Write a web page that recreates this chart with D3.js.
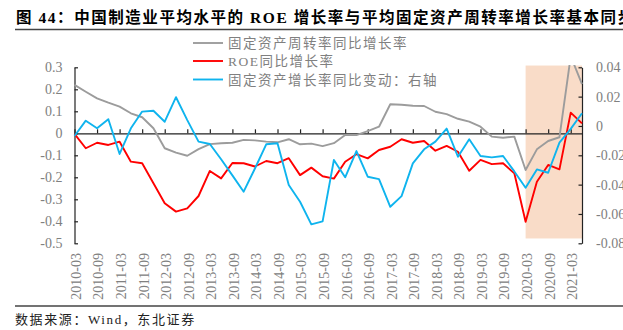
<!DOCTYPE html>
<html><head><meta charset="utf-8">
<script src="https://cdn.jsdelivr.net/npm/d3@7"></script>
<style>
html,body{margin:0;padding:0;background:#fff;}
svg{display:block;}
</style></head>
<body>
<script>
// ---- data ----
const categories = ["2010-03","2010-06","2010-09","2010-12","2011-03","2011-06","2011-09","2011-12","2012-03","2012-06","2012-09","2012-12",
"2013-03","2013-06","2013-09","2013-12","2014-03","2014-06","2014-09","2014-12","2015-03","2015-06","2015-09","2015-12",
"2016-03","2016-06","2016-09","2016-12","2017-03","2017-06","2017-09","2017-12","2018-03","2018-06","2018-09","2018-12",
"2019-03","2019-06","2019-09","2019-12","2020-03","2020-06","2020-09","2020-12","2021-03","2021-06"];
const turnoverGrowth = [0.22,0.189,0.159,0.139,0.121,0.091,0.073,0.023,-0.068,-0.088,-0.102,-0.072,-0.049,-0.045,-0.043,-0.03,-0.032,-0.038,-0.041,-0.027,-0.05,-0.047,-0.058,-0.045,-0.008,-0.008,0.01,0.03,0.132,0.13,0.125,0.124,0.098,0.087,0.066,0.053,0.03,-0.015,-0.02,-0.015,-0.167,-0.073,-0.035,-0.018,0.35,0.224];
const roeGrowth = [-0.003,-0.068,-0.043,-0.053,-0.038,-0.129,-0.136,-0.227,-0.318,-0.356,-0.341,-0.285,-0.171,-0.205,-0.135,-0.136,-0.151,-0.126,-0.136,-0.113,-0.19,-0.156,-0.195,-0.206,-0.129,-0.095,-0.114,-0.076,-0.061,-0.027,-0.043,-0.035,-0.079,-0.057,-0.084,-0.17,-0.121,-0.14,-0.136,-0.182,-0.402,-0.22,-0.144,-0.164,0.094,0.045];
const assetGrowthChange = [-0.0068,0.0036,-0.0016,0.0046,-0.0191,-0.0016,0.0098,0.0104,0.0029,0.0196,0.004,-0.0107,-0.0123,-0.0227,-0.0337,-0.0448,-0.029,-0.0125,-0.0118,-0.0403,-0.0517,-0.0671,-0.0651,-0.0232,-0.035,-0.0171,-0.0346,-0.0362,-0.0551,-0.0478,-0.0255,-0.0159,-0.0107,-0.0018,-0.021,-0.0091,-0.0205,-0.0214,-0.0205,-0.031,-0.0421,-0.0296,-0.0319,-0.0114,-0.002,0.0087];
const leftTicks = [0.3,0.2,0.1,0,-0.1,-0.2,-0.3,-0.4,-0.5];
const rightTicks = [0.04,0.02,0,-0.02,-0.04,-0.06,-0.08];
const xTickLabels = categories.filter((d,i)=>i%2===0);
const seriesNames = ["固定资产周转率同比增长率","ROE同比增长率","固定资产增长率同比变动：右轴"];
const shadeRange = {from:"2020-03", to:"2021-06", top:0.0412, bottom:-0.0767};
const titleText = "图 44：中国制造业平均水平的 ROE 增长率与平均固定资产周转率增长率基本同步";
const sourceText = "数据来源：Wind，东北证券";

// ---- layout ----
const W=623,H=330;
const svg=d3.select("body").append("svg").attr("width",W).attr("height",H);
const serif="'Liberation Serif','Times New Roman',serif";
const cjk="'Liberation Serif','Noto Sans CJK SC',serif";
const L=74.5,R=582,T=67.3,B=243.3;

const x=d3.scaleLinear().domain([0,categories.length-1]).range([L,R]);
const yL=d3.scaleLinear().domain([-0.5,0.3]).range([B,T]);
const yR=d3.scaleLinear().domain([-0.08,0.04]).range([B,T]);
const fmt=(p)=>d=>d===0?"0":d3.format("."+p+"f")(d).replace("\u2212","-");

// title
svg.append("text").attr("x",16).attr("y",23).attr("font-family",cjk).attr("font-weight","bold")
  .attr("font-size",15.5).attr("letter-spacing",1.55).attr("fill","#000").text(titleText);
svg.append("line").attr("x1",15).attr("x2",W).attr("y1",29.5).attr("y2",29.5).attr("stroke","#444").attr("stroke-width",1.3);

// shaded area
const i0=categories.indexOf(shadeRange.from), i1=categories.indexOf(shadeRange.to);
svg.append("rect").attr("x",x(i0)).attr("width",x(i1)-x(i0))
  .attr("y",yR(shadeRange.top)).attr("height",yR(shadeRange.bottom)-yR(shadeRange.top))
  .attr("fill","#F9DCC8");

// left axis
const gL=svg.append("g").attr("transform",`translate(${L},0)`)
  .call(d3.axisLeft(yL).tickValues(leftTicks).tickSizeInner(-3.5).tickSizeOuter(0).tickPadding(12)
  .tickFormat(fmt(1)));
gL.select(".domain").attr("stroke","#222").attr("stroke-width",1.2);
gL.selectAll(".tick line").attr("stroke","#222").attr("stroke-width",1.2);
gL.selectAll("text").attr("font-family",serif).attr("font-size",14).attr("fill","#808080");

// right axis
const gR=svg.append("g").attr("transform",`translate(${R},0)`)
  .call(d3.axisRight(yR).tickValues(rightTicks).tickSizeInner(-3.5).tickSizeOuter(0).tickPadding(14)
  .tickFormat(fmt(2)));
gR.select(".domain").attr("stroke","#222").attr("stroke-width",1.2);
gR.selectAll(".tick line").attr("stroke","#222").attr("stroke-width",1.2);
gR.selectAll("text").attr("font-family",serif).attr("font-size",14).attr("fill","#808080");

// zero axis with upward ticks
const zeroY=yL(0);
const gX=svg.append("g").attr("transform",`translate(0,${zeroY})`)
  .call(d3.axisTop(x).tickValues(d3.range(0,categories.length,2)).tickSizeInner(4).tickSizeOuter(0).tickFormat(""));
gX.select(".domain").attr("stroke","#222").attr("stroke-width",1.2);
gX.selectAll(".tick line").attr("stroke","#222").attr("stroke-width",1.2);

// x labels
svg.append("g").selectAll("text").data(xTickLabels).join("text")
  .attr("transform",(d)=>`translate(${x(categories.indexOf(d))+1.5},253) rotate(-90)`)
  .attr("text-anchor","end").attr("dy","0.35em")
  .attr("font-family",serif).attr("font-size",14).attr("fill","#808080").text(d=>d);

// clip
svg.append("clipPath").attr("id","clip").append("rect").attr("x",L-2).attr("y",65).attr("width",R-L+4).attr("height",B-65+2);

const lines=[
  {vals:turnoverGrowth,y:yL,color:"#9C9C9C"},
  {vals:roeGrowth,y:yL,color:"#FF0000"},
  {vals:assetGrowthChange,y:yR,color:"#0FB4EE"}
];
const gLines=svg.append("g").attr("clip-path","url(#clip)");
lines.forEach(s=>{
  gLines.append("path").datum(s.vals)
    .attr("d",d3.line().x((d,i)=>x(i)).y(d=>s.y(d)))
    .attr("fill","none").attr("stroke",s.color).attr("stroke-width",1.9).attr("stroke-linejoin","round");
});

// legend
const legY=[43,61,79.5];
lines.forEach((s,k)=>{
  svg.append("line").attr("x1",193).attr("x2",223).attr("y1",legY[k]).attr("y2",legY[k])
    .attr("stroke",s.color).attr("stroke-width",1.9);
  svg.append("text").attr("x",228).attr("y",legY[k]+5).attr("font-family",cjk).attr("font-size",13.5)
    .attr("letter-spacing",1.5).attr("fill","#808080").text(seriesNames[k]);
});

// source
svg.append("line").attr("x1",15).attr("x2",W).attr("y1",306).attr("y2",306).attr("stroke","#444").attr("stroke-width",1.3);
svg.append("text").attr("x",15).attr("y",324).attr("font-family",cjk).attr("font-size",13)
  .attr("letter-spacing",1.6).attr("fill","#222").text(sourceText);
</script>
</body></html>
